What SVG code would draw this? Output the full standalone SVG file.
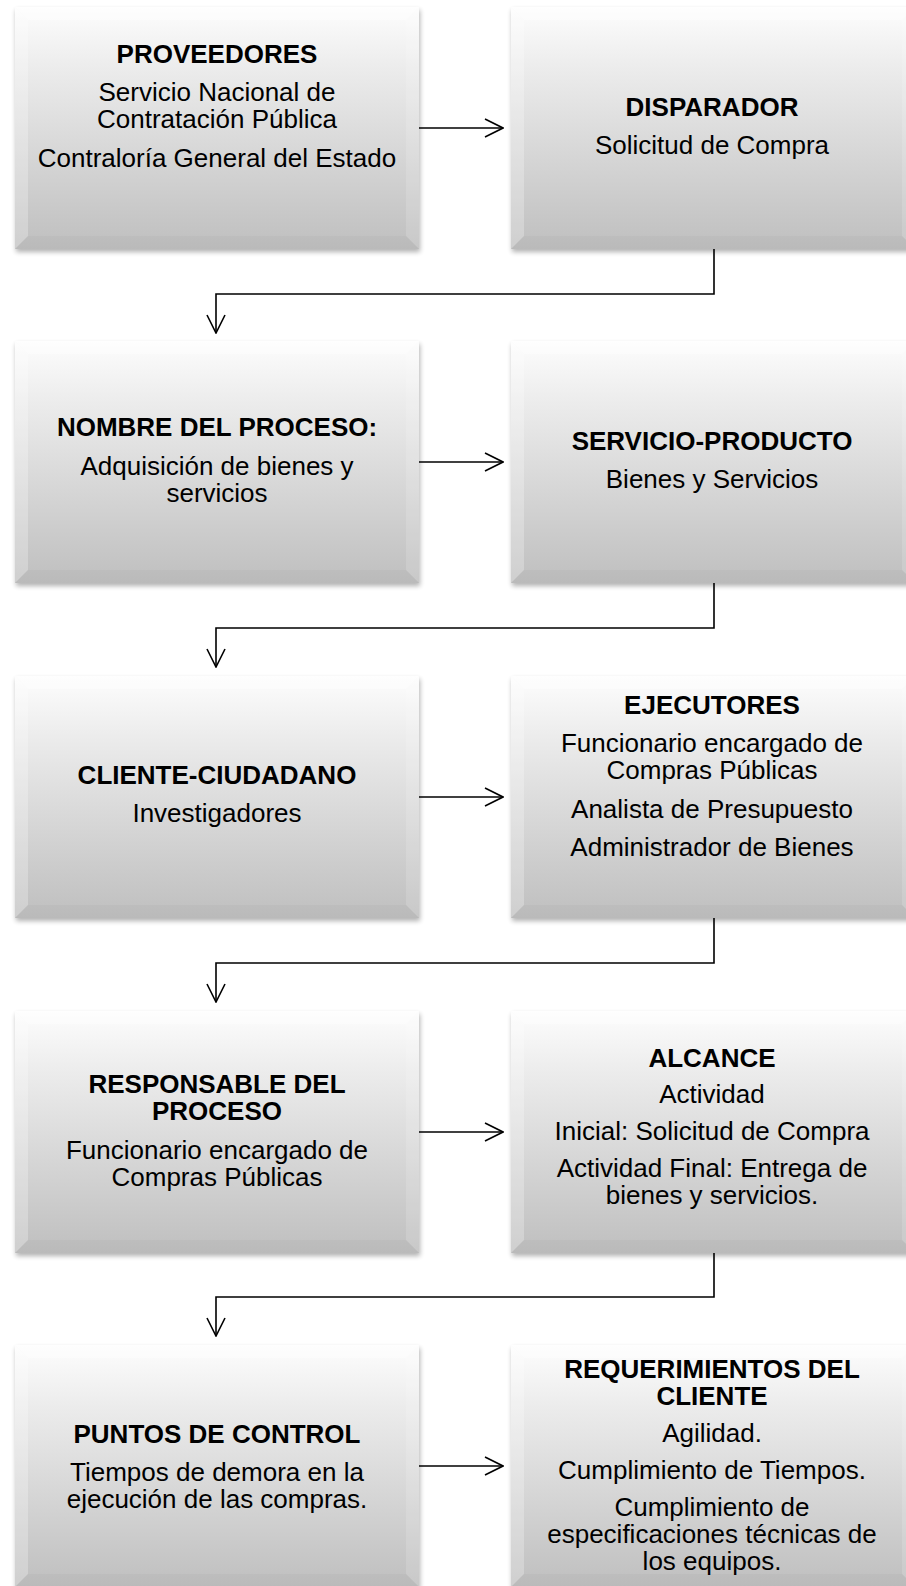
<svg xmlns="http://www.w3.org/2000/svg" xmlns:xlink="http://www.w3.org/1999/xlink" width="906" height="1586" viewBox="0 0 906 1586">
<defs>
<style>
.t{font-family:"Liberation Sans",Arial,sans-serif;font-size:26px;fill:#000;text-anchor:middle}
.b{font-weight:bold}
.c{fill:none;stroke:#000;stroke-width:1.6}
</style>
<linearGradient id="g" x1="0" y1="0" x2="0" y2="1">
<stop offset="0" stop-color="#fdfdfd"/>
<stop offset="0.25" stop-color="#ececec"/>
<stop offset="1" stop-color="#bfbfbf"/>
</linearGradient>
<filter id="sh" x="-10%" y="-10%" width="120%" height="120%">
<feGaussianBlur stdDeviation="2.5"/>
</filter>
<marker id="ar" viewBox="0 0 20 20" refX="19" refY="10" markerWidth="20" markerHeight="20" markerUnits="userSpaceOnUse" orient="auto">
<path d="M1,1 L19,10 L1,19" fill="none" stroke="#000" stroke-width="1.6"/>
</marker>
<g id="box">
<rect x="1" y="3" width="404" height="242" fill="#000" opacity="0.3" filter="url(#sh)"/>
<rect x="0" y="0" width="404" height="242" fill="url(#g)"/>
<path d="M0,0 H404 L391,13 H13 Z" fill="#fff" opacity="0.4"/>
<path d="M0,0 L13,13 V229 L0,242 Z" fill="#fff" opacity="0.25"/>
<path d="M404,0 L391,13 V229 L404,242 Z" fill="#fff" opacity="0.15"/>
<path d="M0,242 L13,229 H391 L404,242 Z" fill="#000" opacity="0.025"/>
</g>
</defs>
<rect width="906" height="1586" fill="#fff"/>

<g id="n1"><use xlink:href="#box" x="15" y="7"/>
<text class="t b" x="217" y="63">PROVEEDORES</text>
<text class="t" x="217" y="101">Servicio Nacional de</text>
<text class="t" x="217" y="128">Contratación Pública</text>
<text class="t" x="217" y="167">Contraloría General del Estado</text></g>

<g id="n2"><use xlink:href="#box" x="511" y="7"/>
<text class="t b" x="712" y="116">DISPARADOR</text>
<text class="t" x="712" y="154">Solicitud de Compra</text></g>

<g id="n3"><use xlink:href="#box" x="15" y="341"/>
<text class="t b" x="217" y="436">NOMBRE DEL PROCESO:</text>
<text class="t" x="217" y="475">Adquisición de bienes y</text>
<text class="t" x="217" y="502">servicios</text></g>

<g id="n4"><use xlink:href="#box" x="511" y="341"/>
<text class="t b" x="712" y="450">SERVICIO-PRODUCTO</text>
<text class="t" x="712" y="488">Bienes y Servicios</text></g>

<g id="n5"><use xlink:href="#box" x="15" y="676"/>
<text class="t b" x="217" y="784">CLIENTE-CIUDADANO</text>
<text class="t" x="217" y="822">Investigadores</text></g>

<g id="n6"><use xlink:href="#box" x="511" y="676"/>
<text class="t b" x="712" y="714">EJECUTORES</text>
<text class="t" x="712" y="752">Funcionario encargado de</text>
<text class="t" x="712" y="779">Compras Públicas</text>
<text class="t" x="712" y="818">Analista de Presupuesto</text>
<text class="t" x="712" y="856">Administrador de Bienes</text></g>

<g id="n7"><use xlink:href="#box" x="15" y="1011"/>
<text class="t b" x="217" y="1093">RESPONSABLE DEL</text>
<text class="t b" x="217" y="1120">PROCESO</text>
<text class="t" x="217" y="1159">Funcionario encargado de</text>
<text class="t" x="217" y="1186">Compras Públicas</text></g>

<g id="n8"><use xlink:href="#box" x="511" y="1011"/>
<text class="t b" x="712" y="1067">ALCANCE</text>
<text class="t" x="712" y="1103">Actividad</text>
<text class="t" x="712" y="1140">Inicial: Solicitud de Compra</text>
<text class="t" x="712" y="1177">Actividad Final: Entrega de</text>
<text class="t" x="712" y="1204">bienes y servicios.</text></g>

<g id="n9"><use xlink:href="#box" x="15" y="1345"/>
<text class="t b" x="217" y="1443">PUNTOS DE CONTROL</text>
<text class="t" x="217" y="1481">Tiempos de demora en la</text>
<text class="t" x="217" y="1508">ejecución de las compras.</text></g>

<g id="n10"><use xlink:href="#box" x="511" y="1345"/>
<text class="t b" x="712" y="1378">REQUERIMIENTOS DEL</text>
<text class="t b" x="712" y="1405">CLIENTE</text>
<text class="t" x="712" y="1442">Agilidad.</text>
<text class="t" x="712" y="1479">Cumplimiento de Tiempos.</text>
<text class="t" x="712" y="1516">Cumplimiento de</text>
<text class="t" x="712" y="1543">especificaciones técnicas de</text>
<text class="t" x="712" y="1570">los equipos.</text></g>

<g id="connectors">
<path class="c" d="M419,128 H503" marker-end="url(#ar)"/>
<path class="c" d="M419,462 H503" marker-end="url(#ar)"/>
<path class="c" d="M419,797 H503" marker-end="url(#ar)"/>
<path class="c" d="M419,1132 H503" marker-end="url(#ar)"/>
<path class="c" d="M419,1466 H503" marker-end="url(#ar)"/>
<path class="c" d="M714,249 V294 H216 V333" marker-end="url(#ar)"/>
<path class="c" d="M714,583 V628 H216 V667" marker-end="url(#ar)"/>
<path class="c" d="M714,918 V963 H216 V1002" marker-end="url(#ar)"/>
<path class="c" d="M714,1253 V1297 H216 V1336" marker-end="url(#ar)"/>
</g>
</svg>
